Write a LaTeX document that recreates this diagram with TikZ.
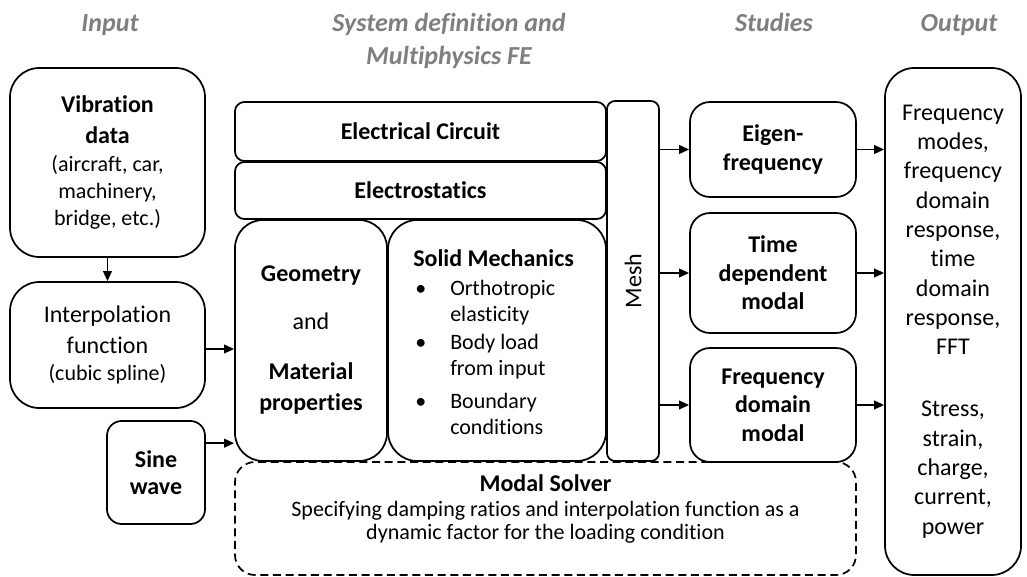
\documentclass[tikz,border=0pt]{standalone}
\usepackage{fontspec}
\setmainfont{Carlito}[Ligatures=NoCommon]
\usetikzlibrary{arrows.meta}
\definecolor{headgray}{RGB}{127,127,127}
\newcommand\fbig{\fontsize{18}{22}\selectfont}
\newcommand\fsmall{\fontsize{16.5}{20.25}\selectfont}
\newcommand\itembul{\makebox[27.75pt][l]{\hspace{1.5pt}\textbullet}}
\newcommand\itemind{\hspace*{27.75pt}}

\begin{document}
\begin{tikzpicture}[x=0.75pt,y=-0.75pt,
  box/.style={draw, line width=1.3pt, rounded corners=#1, inner sep=0pt, align=center},
  box/.default=12pt,
  arr/.style={-{Triangle[length=7.5pt,width=6.5pt]}, line width=1.3pt},
  head/.style={font=\fontsize{19.5}{24.75}\selectfont\bfseries\itshape, text=headgray, align=center, inner sep=0pt},
  txt/.style={inner sep=0pt}]
\useasboundingbox (0,0) rectangle (1027,577);

% column headings
\node[head, anchor=base] (tin)  at (110,32) {Input};
\node[head, anchor=base] (tsys) at (449,65) {System definition and\\Multiphysics FE};
\node[head, anchor=base] (tstu) at (774,32) {Studies};
\node[head, anchor=base] (tout) at (959,32) {Output};

% input column
\node[box=22pt, minimum width=146.25pt, minimum height=141.75pt, font=\fsmall] (vib) at (107.5,162.5)
  {{\fbig\bfseries Vibration}\\[3pt]{\fbig\bfseries data}\\[0.75pt](aircraft, car,\\machinery,\\bridge, etc.)};
\node[box=22pt, minimum width=146.25pt, minimum height=94.5pt, font=\fsmall] (interp) at (107.5,345)
  {{\fbig Interpolation}\\[3pt]{\fbig function}\\(cubic spline)};
\node[box=11pt, minimum width=73.5pt, minimum height=77.25pt, font=\fontsize{18}{20.25}\selectfont\bfseries] (sine) at (156,472.5)
  {Sine\\wave};

% system definition and multiphysics
\node[box=7pt, minimum width=278.25pt, minimum height=44.25pt, font=\fbig\bfseries] (ec) at (420.5,131.5) {Electrical Circuit};
\node[box=7pt, minimum width=278.25pt, minimum height=42.75pt, font=\fbig\bfseries] (es) at (420.5,190.5) {Electrostatics};
\node[box=21pt, minimum width=114pt, minimum height=180.75pt, font=\fontsize{18}{23.25}\selectfont] (geo) at (311,340.5)
  {\textbf{Geometry}\\[12.75pt]and\\[14.25pt]\textbf{Material}\\\textbf{properties}};
\node[box=22pt, minimum width=163.5pt, minimum height=180.75pt] (solid) at (497,340.5) {};
\node[txt, anchor=west, align=left, font=\fontsize{16.5}{19.5}\selectfont] (solidtxt) at (413,342.5)
  {{\fbig\bfseries Solid Mechanics}\\[2.25pt]
   \itembul Orthotropic\\
   \itemind elasticity\\[1.5pt]
   \itembul Body load\\
   \itemind from input\\[5.25pt]
   \itembul Boundary\\
   \itemind conditions};
\node[box=6pt, rotate=90, minimum width=270pt, minimum height=39pt, font=\fbig] (mesh) at (633,281) {Mesh};

% studies
\node[box=15pt, minimum width=124.5pt, minimum height=71.25pt, font=\fontsize{18}{21.5}\selectfont\bfseries] (eig) at (773,149.5)
  {Eigen-\\frequency};
\node[box=15pt, minimum width=124.5pt, minimum height=90pt, font=\fontsize{18}{21.5}\selectfont\bfseries] (td) at (773,273)
  {Time\\dependent\\modal};
\node[box=15pt, minimum width=124.5pt, minimum height=85.5pt, font=\fontsize{18}{21.5}\selectfont\bfseries] (fd) at (773,405)
  {Frequency\\domain\\modal};

% output
\node[box=22pt, minimum width=102pt, minimum height=380.25pt, font=\fbig] (out) at (953,321.5)
  {Frequency\\modes,\\frequency\\domain\\response,\\time\\domain\\response,\\FFT\\[24.5pt]Stress,\\strain,\\charge,\\current,\\power};

% modal solver
\node[box=15pt, dashed, dash pattern=on 6pt off 3.5pt, minimum width=465.75pt, minimum height=84.75pt] (modal) at (545.5,518.5) {};
\node[txt, align=center, font=\fontsize{16.5}{17.25}\selectfont] (modaltxt) at (545.5,509)
  {{\fbig\bfseries Modal Solver}\\[1.5pt]Specifying damping ratios and interpolation function as a\\dynamic factor for the loading condition};

% connectors
\draw[arr] (vib.south) -- (interp.north);
\draw[arr] ([yshift=-3pt]interp.east) coordinate (i1) -- (geo.west |- i1);
\draw[arr] ([yshift=22pt]sine.east) coordinate (s1) -- (geo.west |- s1);
\draw[arr] (mesh.south |- eig.west) -- (eig.west);
\draw[arr] (mesh.south |- td.west) -- (td.west);
\draw[arr] (mesh.south |- fd.west) -- (fd.west);
\draw[arr] (eig.east) -- (out.west |- eig.east);
\draw[arr] (td.east) -- (out.west |- td.east);
\draw[arr] (fd.east) -- (out.west |- fd.east);
\end{tikzpicture}
\end{document}
